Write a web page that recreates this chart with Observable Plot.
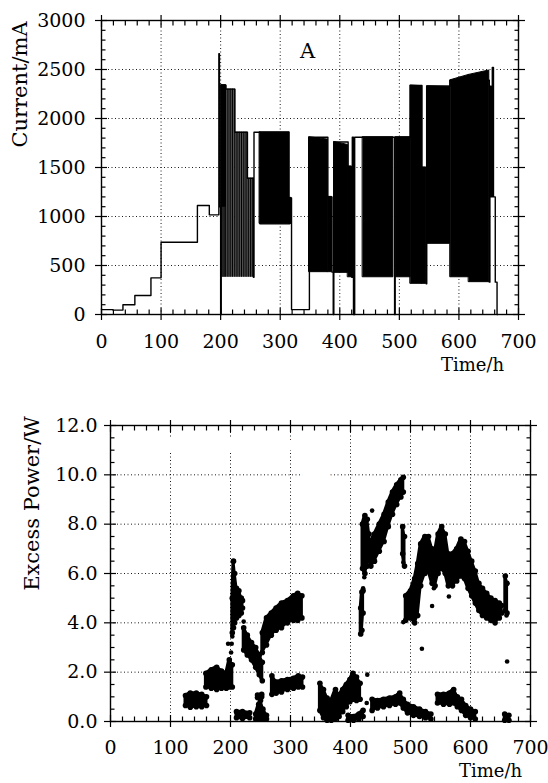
<!DOCTYPE html>
<html><head><meta charset="utf-8">
<script src="https://cdn.jsdelivr.net/npm/d3@7"></script>
<script src="https://cdn.jsdelivr.net/npm/@observablehq/plot@0.6"></script>
<style>
html,body{margin:0;padding:0;background:#fff;overflow:hidden}
#chart svg{display:block}
</style></head><body><div id="chart"></div>
<script>
// ---------- Panel A: cell current (mA) vs time (h) ----------
const stepT = [0,19,36,56,83,100,161,181,197,198,200,201,209,224,245,255,256,266,316,319,349,380,387,389,390,414,420,421,423,425,490,492,493,519,538,545,546,585,651,652,654,656,658,661,664,665];
const stepI = [50,45,99,194,374,738,1112,1017,2660,1100,0,2340,2300,1860,1390,380,1860,925,1190,50,1809,1200,432,0,1760,1510,380,1809,0,1809,1809,0,1809,2337,1500,313,2330,2390,330,2330,1200,2520,1200,330,0,0];

// pulsed (striped) region 201-256 h
const grayT0 = [201,209,224,245];
const grayT1 = [209,224,245,256];
const grayLo = [380,380,380,380];
const grayHi = [2340,2300,1860,1390];
const stripeT = [202,204,206,208,211,214,217,220,223,226,229,232,235,238,241,244,247,250,253,255];

// dense oscillation blocks: [t, low current, high current]
const blkA0 = [[201,1100,2340],[209,1100,2340]];
const blkA1 = [[266,925,1860],[316,925,1860]];
const blkA2 = [[316,925,1190],[319,925,1190]];
const blkA3 = [[349,432,1809],[380,432,1785]];
const blkA4 = [[380,432,1200],[387,432,1200]];
const blkA5 = [[391,425,1760],[414,425,1730]];
const blkA6 = [[414,380,1510],[420,380,1510]];
const blkA7 = [[439,380,1809],[490,380,1809]];
const blkA8 = [[494,380,1809],[519,380,1809]];
const blkA9 = [[519,313,2337],[538,313,2330]];
const blkA10 = [[538,313,1500],[545,313,1500]];
const blkA11 = [[547,721,2330],[585,721,2325]];
const blkA12 = [[586,380,2390],[617,380,2445]];
const blkA13 = [[617,330,2445],[651,330,2490]];
const blocksA = [blkA0,blkA1,blkA2,blkA3,blkA4,blkA5,blkA6,blkA7,blkA8,blkA9,blkA10,blkA11,blkA12,blkA13];

// ---------- Panel B: excess power (W) vs time (h) ----------
const c1 = [[125,0.65,1.05],[133,0.58,1.15],[143,0.6,1.15],[152,0.6,1.1],[160,0.65,1.0]];
const c2 = [[159,1.4,1.95],[168,1.35,2.1],[177,1.3,2.2],[185,1.35,2.05],[193,1.35,1.95],[198,1.4,2.5],[203,1.4,2.3]];
const c3 = [[203,3.6,5.0],[205,3.8,6.5],[207,4.0,6.0],[210,4.2,5.4],[214,4.3,5.3],[218,4.4,5.0],[220,4.6,4.9]];
const c4 = [[210,0.15,0.4],[220,0.12,0.4],[232,0.15,0.35]];
const c5 = [[222,2.9,3.8],[228,2.7,3.5],[235,2.5,3.2],[242,2.2,3.0],[248,1.9,2.7],[253,1.65,2.4]];
const c6 = [[245,0.97,1.07],[252,1.0,1.1]];
const c7 = [[242,0.1,0.3],[247,0.1,0.7],[250,0.1,0.85],[254,0.1,0.5],[260,0.1,0.25]];
const c8 = [[253,2.8,3.6],[260,3.1,4.2],[268,3.5,4.4],[276,3.7,4.6],[285,3.8,4.8],[295,4.0,4.9],[305,4.1,5.1],[312,4.1,5.2],[319,4.2,5.1]];
const c9 = [[269,1.1,1.85],[276,1.15,1.6],[285,1.2,1.65],[295,1.3,1.7],[305,1.35,1.75],[313,1.4,1.85],[320,1.4,1.8]];
const c10 = [[349,0.45,1.55],[355,0.15,1.3],[361,0.05,0.95],[368,0.05,0.85],[375,0.1,1.3],[381,0.2,1.05],[387,0.4,1.3],[393,0.6,1.5],[399,0.8,1.7],[404,0.9,1.95],[410,0.85,1.8],[416,0.9,1.55]];
const c11 = [[396,0.05,0.25],[405,0.05,0.2],[414,0.1,0.3],[421,0.2,0.45]];
const c12 = [[436,0.45,0.9],[445,0.55,0.85],[455,0.6,0.9],[465,0.65,0.95],[475,0.7,1.0],[482,0.75,1.15],[488,0.55,0.9],[495,0.35,0.7],[505,0.25,0.6],[515,0.2,0.5],[525,0.15,0.4],[534,0.1,0.3]];
const c13 = [[420,6.2,8.0],[424,6.0,8.35],[428,6.3,8.2],[431,6.6,7.6]];
const c14 = [[417,3.55,4.6],[419,3.7,5.25],[421,4.4,5.3]];
const c15 = [[434,6.3,7.3],[440,6.5,7.6],[448,6.9,8.0],[456,7.3,8.4],[463,7.9,8.9],[470,8.4,9.3],[477,8.8,9.6],[484,9.1,9.8],[488,9.3,9.9]];
const c16 = [[487,6.8,7.9],[490,6.3,7.5]];
const c17 = [[492,4.1,5.1],[500,4.2,5.3],[507,4.0,5.8],[512,4.3,6.4],[517,5.5,7.2],[524,6.0,7.5],[530,6.1,7.5],[536,5.6,7.0],[541,5.5,6.9],[546,6.0,7.6],[552,6.2,7.9],[558,6.0,7.6],[563,5.5,6.8],[570,5.5,6.8],[577,5.7,7.0],[584,5.9,7.4],[590,5.8,7.3],[596,5.4,6.9],[602,5.1,6.5],[608,4.8,6.1],[614,4.5,5.6],[620,4.3,5.4],[627,4.2,5.2],[634,4.1,5.0],[641,4.0,4.9],[648,4.2,4.8],[652,4.4,4.7]];
const c18 = [[658,4.5,5.9],[661,4.4,5.6]];
const c19 = [[657,0.05,0.3],[664,0.05,0.25]];
const c20 = [[545,0.75,1.1],[555,0.7,1.1],[565,0.7,1.15],[572,0.75,1.3],[578,0.6,1.0],[585,0.45,0.9],[592,0.25,0.65],[600,0.15,0.5],[608,0.1,0.4]];
const clustersB = [c1,c2,c3,c4,c5,c6,c7,c8,c9,c10,c11,c12,c13,c14,c15,c16,c17,c18,c19,c20];

const singleT = [196,201,202,203,222,427,428,436,423,421,488,488,519,536,539,564,660,661];
const singleP = [3.15,2.8,3.15,3.45,4.05,0.75,1.9,8.55,5.85,5.4,6.45,4.03,2.95,4.68,5.4,5.07,4.3,2.43];

// ---------- tick values ----------
const xMajor = [0,100,200,300,400,500,600,700];
const xMinor = d3.range(0,701,20).filter(v => v % 100 !== 0);
const yMajorA = [0,500,1000,1500,2000,2500,3000];
const yMinorA = d3.range(0,3001,100).filter(v => v % 500 !== 0);
const yMajorB = [0,2,4,6,8,10,12];
const yMinorB = d3.range(0,12.01,0.5).filter(v => Math.abs(v/2 - Math.round(v/2)) > 1e-6);

const FONT = "DejaVu Serif";
const none = () => "";
const tickStyle = {stroke: "black", strokeWidth: 1.2, label: null};

function axes(yMajor, yMinor, yFmt, xPad, yPad) {
  const m = [];
  for (const anchor of ["bottom", "top"]) {
    m.push(Plot.axisX(xMajor, {anchor, tickSize: 6, tickPadding: xPad, tickFormat: anchor === "bottom" ? d => String(d) : none, fontSize: 19, ...tickStyle}));
    m.push(Plot.axisX(xMajor, {anchor, tickSize: -6, tickFormat: none, ...tickStyle}));
    m.push(Plot.axisX(xMinor, {anchor, tickSize: -4.5, tickFormat: none, ...tickStyle}));
  }
  for (const anchor of ["left", "right"]) {
    m.push(Plot.axisY(yMajor, {anchor, tickSize: 6, tickPadding: yPad, tickFormat: anchor === "left" ? yFmt : none, fontSize: 19, ...tickStyle}));
    m.push(Plot.axisY(yMajor, {anchor, tickSize: -6, tickFormat: none, ...tickStyle}));
    m.push(Plot.axisY(yMinor, {anchor, tickSize: -4.5, tickFormat: none, ...tickStyle}));
  }
  return m;
}
const gridStyle = {stroke: "black", strokeOpacity: 0.9, strokeWidth: 1, strokeDasharray: "1,2.5"};

// ---------- build panel A ----------
const stepData = stepT.map((t, i) => ({t, I: stepI[i]}));
const grayData = grayT0.map((t0, i) => ({t0, t1: grayT1[i], lo: grayLo[i], hi: grayHi[i]}));
const stripeData = stripeT.map(t => {
  const b = grayData.find(g => t >= g.t0 && t < g.t1);
  return {t, lo: b.lo, hi: b.hi};
});
const blockData = blocksA.flatMap((pts, id) => pts.map(([t, lo, hi]) => ({id, t, lo, hi})));

const plotA = Plot.plot({
  width: 548, height: 380,
  marginTop: 20, marginRight: 30, marginBottom: 66, marginLeft: 101,
  style: {fontFamily: FONT, fontSize: "19px", background: "white", color: "black"},
  x: {domain: [0, 700]},
  y: {domain: [0, 3000]},
  marks: [
    Plot.gridX(xMajor.slice(1, -1), gridStyle),
    Plot.gridY(yMajorA.slice(1, -1), gridStyle),
    Plot.rect(grayData, {x1: "t0", x2: "t1", y1: "lo", y2: "hi", fill: "#666"}),
    Plot.ruleX(stripeData, {x: "t", y1: "lo", y2: "hi", stroke: "black", strokeWidth: 1}),
    Plot.areaY(blockData, {x: "t", y1: "lo", y2: "hi", z: "id", fill: "black", stroke: "black", strokeWidth: 1}),
    Plot.line(stepData, {x: "t", y: "I", curve: "step-after", stroke: "black", strokeWidth: 1.4}),
    Plot.frame({stroke: "black", strokeWidth: 1.4}),
    ...axes(yMajorA, yMinorA, d => String(d), 14, 10),
    Plot.text(["Current/mA"], {frameAnchor: "top-left", dx: -81, dy: 64, rotate: -90, fontSize: 21, textAnchor: "middle", lineAnchor: "middle"}),
    Plot.text(["A"], {frameAnchor: "top-left", dx: 206, dy: 31, fontSize: 21, textAnchor: "middle", lineAnchor: "middle"}),
    Plot.text(["Time/h"], {frameAnchor: "bottom-left", dx: 371, dy: 51, fontSize: 18, textAnchor: "middle", lineAnchor: "middle"})
  ]
});

// ---------- build panel B ----------
const clusterData = clustersB.flatMap((pts, id) => pts.map(([t, lo, hi]) => ({id, t, lo, hi})));
const edgeData = clusterData.flatMap(d => [{t: d.t, p: d.lo}, {t: d.t, p: d.hi}]);
const singleData = singleT.map((t, i) => ({t, p: singleP[i]}));

const plotB = Plot.plot({
  width: 548, height: 403,
  marginTop: 45, marginRight: 18, marginBottom: 62, marginLeft: 110,
  style: {fontFamily: FONT, fontSize: "19px", background: "white", color: "black"},
  x: {domain: [0, 700]},
  y: {domain: [0, 12]},
  marks: [
    Plot.gridX(xMajor.slice(1, -1), gridStyle),
    Plot.gridY(yMajorB.slice(1, -1), gridStyle),
    Plot.areaY(clusterData, {x: "t", y1: "lo", y2: "hi", z: "id", fill: "black", stroke: "black", strokeWidth: 3, strokeLinejoin: "round"}),
    Plot.dot(edgeData, {x: "t", y: "p", r: 2.8, fill: "black"}),
    Plot.dot(singleData, {x: "t", y: "p", r: 2.3, fill: "black"}),
    Plot.frame({stroke: "black", strokeWidth: 1.4}),
    ...axes(yMajorB, yMinorB, d3.format(".1f"), 13, 7),
    Plot.text(["Excess Power/W"], {frameAnchor: "top-left", dx: -78, dy: 78, rotate: -90, fontSize: 21, textAnchor: "middle", lineAnchor: "middle"}),
    Plot.text(["error on excess power≈7%"], {frameAnchor: "top-left", dx: 8, dy: 19, fontSize: 14.5, textAnchor: "start", lineAnchor: "middle", stroke: "white", strokeWidth: 6}),
    Plot.text(["B"], {frameAnchor: "top-left", dx: 206, dy: 56, fontSize: 21, textAnchor: "middle", lineAnchor: "middle", stroke: "white", strokeWidth: 16}),
    Plot.text(["Time/h"], {frameAnchor: "bottom-left", dx: 380, dy: 50, fontSize: 18, textAnchor: "middle", lineAnchor: "middle"})
  ]
});

const root = document.getElementById("chart");
root.appendChild(plotA);
root.appendChild(plotB);
</script></body></html>
